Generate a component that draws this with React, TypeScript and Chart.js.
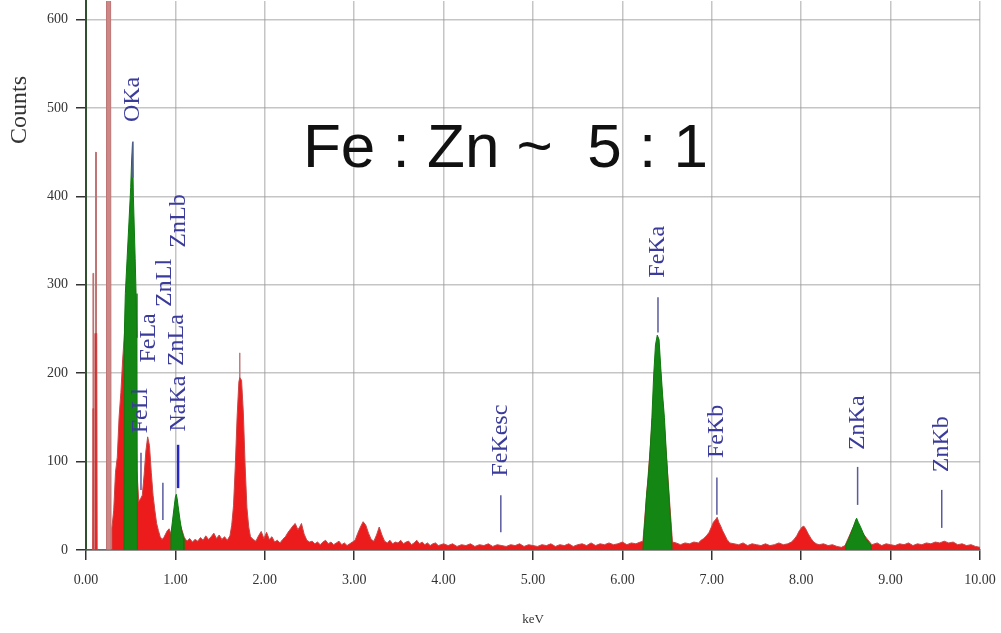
import { useEffect, useRef } from "react";
import { Chart, registerables } from "chart.js";

Chart.register(...registerables);

// ---- axis ticks ----
const xTickValues = [0, 1, 2, 3, 4, 5, 6, 7, 8, 9, 10];
const yTickValues = [0, 100, 200, 300, 400, 500, 600];

// ---- full spectrum (keV, counts), red ----
const redSpectrum: [number, number][] = [
  [0.0, 0], [0.06, 0], [0.075, 0], [0.08, 160], [0.085, 0], [0.095, 0], [0.1, 245], [0.12, 245], [0.125, 0],
  [0.28, 0], [0.29, 25], [0.31, 45], [0.33, 88], [0.35, 105], [0.37, 150], [0.39, 178], [0.41, 215], [0.43, 245],
  [0.45, 260], [0.5, 280], [0.55, 200], [0.57, 90], [0.59, 55], [0.61, 58], [0.63, 62], [0.65, 85], [0.67, 112],
  [0.69, 128], [0.71, 118], [0.73, 88], [0.75, 62], [0.77, 45], [0.79, 30], [0.81, 22], [0.83, 15], [0.85, 12],
  [0.87, 14], [0.89, 18], [0.91, 22], [0.93, 24], [0.95, 18], [1.0, 40], [1.05, 30], [1.1, 14], [1.13, 10],
  [1.16, 13], [1.19, 9], [1.22, 12], [1.25, 10], [1.28, 14], [1.31, 11], [1.34, 16], [1.37, 12], [1.4, 15],
  [1.43, 19], [1.46, 13], [1.49, 17], [1.52, 12], [1.55, 15], [1.58, 11], [1.61, 16], [1.63, 28], [1.65, 50],
  [1.67, 95], [1.69, 150], [1.71, 190], [1.72, 195], [1.74, 192], [1.76, 155], [1.78, 95], [1.8, 48], [1.82, 26],
  [1.84, 15], [1.87, 12], [1.9, 10], [1.93, 16], [1.96, 21], [1.99, 13], [2.02, 20], [2.05, 12], [2.08, 15],
  [2.11, 9], [2.14, 11], [2.17, 8], [2.2, 12], [2.23, 15], [2.26, 20], [2.29, 24], [2.32, 28], [2.34, 30],
  [2.37, 23], [2.39, 26], [2.41, 30], [2.44, 18], [2.47, 11], [2.5, 9], [2.53, 10], [2.56, 7], [2.59, 9],
  [2.62, 6], [2.65, 9], [2.68, 11], [2.71, 7], [2.74, 9], [2.77, 6], [2.8, 8], [2.83, 10], [2.86, 6], [2.89, 8],
  [2.92, 5], [2.95, 7], [2.98, 9], [3.01, 11], [3.04, 19], [3.07, 26], [3.1, 32], [3.13, 28], [3.16, 19],
  [3.19, 12], [3.22, 10], [3.25, 17], [3.28, 26], [3.31, 17], [3.34, 10], [3.37, 8], [3.4, 11], [3.43, 7],
  [3.46, 9], [3.49, 8], [3.52, 11], [3.55, 7], [3.58, 9], [3.61, 10], [3.64, 6], [3.67, 8], [3.7, 11], [3.73, 7],
  [3.76, 9], [3.79, 6], [3.82, 8], [3.85, 5], [3.88, 7], [3.91, 8], [3.94, 5], [3.97, 6], [4.0, 7], [4.05, 5],
  [4.1, 7], [4.15, 4], [4.2, 6], [4.25, 5], [4.3, 7], [4.35, 4], [4.4, 6], [4.45, 5], [4.5, 7], [4.55, 4],
  [4.6, 6], [4.65, 5], [4.7, 4], [4.75, 6], [4.8, 5], [4.85, 7], [4.9, 4], [4.95, 6], [5.0, 5], [5.05, 4],
  [5.1, 6], [5.15, 5], [5.2, 7], [5.25, 4], [5.3, 6], [5.35, 5], [5.4, 7], [5.45, 4], [5.5, 6], [5.55, 7],
  [5.6, 5], [5.65, 8], [5.7, 5], [5.75, 7], [5.8, 6], [5.85, 8], [5.9, 6], [5.95, 7], [6.0, 9], [6.05, 6],
  [6.1, 8], [6.15, 7], [6.2, 9], [6.23, 10], [6.3, 100], [6.4, 240], [6.5, 95], [6.56, 9], [6.6, 8], [6.65, 6],
  [6.7, 8], [6.75, 7], [6.8, 9], [6.85, 8], [6.88, 11], [6.91, 13], [6.94, 16], [6.97, 20], [7.0, 27], [7.02, 32],
  [7.04, 34], [7.06, 37], [7.08, 31], [7.1, 27], [7.12, 22], [7.14, 18], [7.17, 12], [7.2, 8], [7.25, 7],
  [7.3, 6], [7.35, 8], [7.4, 5], [7.45, 7], [7.5, 6], [7.55, 5], [7.6, 7], [7.65, 5], [7.7, 6], [7.75, 8],
  [7.8, 6], [7.85, 7], [7.89, 9], [7.92, 12], [7.95, 16], [7.98, 22], [8.01, 26], [8.03, 27], [8.05, 24],
  [8.08, 18], [8.11, 13], [8.14, 9], [8.17, 7], [8.2, 6], [8.25, 7], [8.3, 5], [8.35, 6], [8.4, 4], [8.45, 3],
  [8.49, 5], [8.6, 30], [8.79, 6], [8.85, 8], [8.9, 5], [8.95, 7], [9.0, 6], [9.05, 5], [9.1, 7], [9.15, 6],
  [9.2, 8], [9.25, 5], [9.3, 7], [9.35, 6], [9.4, 8], [9.45, 7], [9.5, 9], [9.55, 8], [9.6, 10], [9.65, 8],
  [9.7, 9], [9.75, 6], [9.8, 7], [9.85, 5], [9.9, 6], [9.95, 4], [10.0, 3],
];

// ---- narrow off-scale / tip lines (pink) ----
const pinkSpikes: [number, number][] = [
  [0.075, 0], [0.078, 313], [0.082, 313], [0.085, 0],
  [0.105, 0], [0.108, 450], [0.112, 450], [0.115, 0],
  [0.225, 0], [0.23, 640], [0.275, 640], [0.28, 0],
  [1.716, 0], [1.72, 223], [1.724, 0],
];

// ---- identified element peaks (green) ----
const greenOKa: [number, number][] = [
  [0.425, 0], [0.43, 250], [0.44, 290], [0.46, 330], [0.48, 370], [0.5, 410], [0.51, 440], [0.52, 461],
  [0.53, 400], [0.55, 330], [0.56, 290], [0.57, 240], [0.575, 0],
];
const greenZnL: [number, number][] = [
  [0.945, 0], [0.95, 18], [0.97, 35], [0.99, 52], [1.0, 60], [1.01, 63], [1.02, 58], [1.03, 50], [1.05, 35],
  [1.07, 22], [1.09, 14], [1.095, 0],
];
const greenFeKa: [number, number][] = [
  [6.23, 0], [6.235, 10], [6.25, 30], [6.27, 62], [6.29, 82], [6.31, 112], [6.33, 150], [6.35, 198], [6.37, 232],
  [6.39, 243], [6.41, 238], [6.43, 205], [6.45, 175], [6.47, 150], [6.49, 112], [6.51, 78], [6.53, 45],
  [6.55, 15], [6.555, 0],
];
const greenZnKa: [number, number][] = [
  [8.49, 0], [8.5, 6], [8.53, 12], [8.56, 20], [8.59, 28], [8.61, 34], [8.62, 36], [8.64, 31], [8.66, 27],
  [8.69, 20], [8.72, 13], [8.75, 9], [8.78, 6], [8.785, 0],
];

// ---- peak labels (energy keV, label foot in counts) ----
const labelNames = ["OKa", "FeLl", "FeLa", "ZnLl", "ZnLa", "ZnLb", "NaKa", "FeKesc", "FeKa", "FeKb", "ZnKa", "ZnKb"];
const labelEnergies = [0.525, 0.615, 0.705, 0.884, 1.012, 1.034, 1.041, 4.64, 6.398, 7.057, 8.631, 9.572];
const labelFeet = [484, 132, 212, 275, 208, 342, 134, 83, 308, 104, 113, 88];

// ---- peak markers (energy keV, top & bottom in counts) ----
const markerEnergies = [0.525, 0.615, 0.86, 1.03, 4.64, 6.398, 7.057, 8.631, 9.572];
const markerTops = [462, 110, 76, 119, 62, 286, 82, 94, 68];
const markerBottoms = [421, 68, 34, 70, 20, 246, 40, 51, 25];

const titleText = "Fe : Zn ~  5 : 1";
const xTitle = "keV";
const yTitle = "Counts";

const toXY = (arr: [number, number][]) => arr.map(([x, y]) => ({ x, y }));

const annotatePlugin = {
  id: "annotate",
  afterDatasetsDraw(chart: any) {
    const { ctx, scales, chartArea } = chart;
    const xs = scales.x;
    const ys = scales.y;
    ctx.save();
    // markers
    markerEnergies.forEach((e, i) => {
      const px = xs.getPixelForValue(e);
      ctx.beginPath();
      ctx.moveTo(px, ys.getPixelForValue(markerTops[i]));
      ctx.lineTo(px, ys.getPixelForValue(markerBottoms[i]));
      const strong = i === 3;
      ctx.strokeStyle = strong ? "#2626c8" : "#5a5a9e";
      ctx.lineWidth = strong ? 2.5 : 1.5;
      ctx.stroke();
    });
    // labels
    ctx.font = '24px "Liberation Serif"';
    ctx.fillStyle = "#3b3b9c";
    labelNames.forEach((n, i) => {
      const px = xs.getPixelForValue(labelEnergies[i]);
      const py = ys.getPixelForValue(labelFeet[i]);
      ctx.save();
      ctx.translate(px, py);
      ctx.rotate(-Math.PI / 2);
      ctx.textAlign = "left";
      ctx.textBaseline = "middle";
      ctx.fillText(n, 0, 0);
      ctx.restore();
    });
    // big annotation
    ctx.font = '62px "Liberation Sans"';
    ctx.fillStyle = "#111";
    ctx.textAlign = "left";
    ctx.textBaseline = "alphabetic";
    ctx.fillText(titleText, chartArea.left + 217, chartArea.top + 166);
    // axis titles
    ctx.font = '13px "Liberation Serif"';
    ctx.fillStyle = "#333";
    ctx.textAlign = "center";
    ctx.textBaseline = "middle";
    ctx.fillText(xTitle, (chartArea.left + chartArea.right) / 2, 620);
    ctx.save();
    ctx.translate(20, 110);
    ctx.rotate(-Math.PI / 2);
    ctx.font = '24px "Liberation Serif"';
    ctx.fillText(yTitle, 0, 0);
    ctx.restore();
    ctx.restore();
  },
};

const zeroPad = (s: any) => {
  s.paddingLeft = 0;
  s.paddingRight = 0;
  s.paddingTop = 0;
  s.paddingBottom = 0;
};

export default function App() {
  const ref = useRef<HTMLCanvasElement>(null);
  useEffect(() => {
    document.body.style.margin = "0";
    const greenStyle = {
      backgroundColor: "#138613",
      borderColor: "#0f7a0f",
      borderWidth: 1,
      fill: "origin",
      pointRadius: 0,
      order: 1,
    };
    const chart = new Chart(ref.current!, {
      type: "line",
      data: {
        datasets: [
          { data: toXY(greenOKa), ...greenStyle } as any,
          { data: toXY(greenZnL), ...greenStyle } as any,
          { data: toXY(greenFeKa), ...greenStyle } as any,
          { data: toXY(greenZnKa), ...greenStyle } as any,
          {
            data: toXY(redSpectrum),
            backgroundColor: "#ec1c1c",
            borderColor: "rgba(200,70,70,1)",
            borderWidth: 1,
            fill: "origin",
            pointRadius: 0,
            order: 2,
          },
          {
            data: toXY(pinkSpikes),
            backgroundColor: "rgb(205,135,135)",
            borderColor: "rgb(190,115,115)",
            borderWidth: 1,
            fill: "origin",
            pointRadius: 0,
            order: 3,
          },
        ],
      },
      options: {
        animation: false,
        responsive: false,
        layout: { padding: { left: 0, right: 21, top: 1, bottom: 0 } },
        plugins: { legend: { display: false }, tooltip: { enabled: false } },
        elements: { line: { tension: 0 } },
        scales: {
          x: {
            type: "linear",
            min: 0,
            max: 10,
            afterBuildTicks: (s: any) => {
              s.ticks = xTickValues.map((v) => ({ value: v }));
            },
            afterFit: (s: any) => {
              s.height = 83;
              zeroPad(s);
            },
            ticks: {
              callback: (v: any) => Number(v).toFixed(2),
              font: { family: "Liberation Serif", size: 14 },
              color: "#333",
              padding: 12,
            },
            grid: { color: "rgba(150,150,150,0.55)", lineWidth: 1.5, tickLength: 10, tickColor: "#333" },
            border: { color: "#444", width: 1.5 },
          },
          y: {
            type: "linear",
            min: 0,
            max: 621,
            afterBuildTicks: (s: any) => {
              s.ticks = yTickValues.map((v) => ({ value: v }));
            },
            afterFit: (s: any) => {
              s.width = 86;
              zeroPad(s);
            },
            ticks: {
              font: { family: "Liberation Serif", size: 14 },
              color: "#333",
              padding: 8,
            },
            grid: { color: "rgba(150,150,150,0.55)", lineWidth: 1.5, tickLength: 10, tickColor: "#333" },
            border: { color: "#2f4f2f", width: 2 },
          },
        },
      },
      plugins: [annotatePlugin],
    });
    return () => chart.destroy();
  }, []);
  return (
    <div style={{ position: "absolute", left: 0, top: 0, width: 1001, height: 633 }}>
      <canvas ref={ref} width={1001} height={633} style={{ display: "block" }} />
    </div>
  );
}
